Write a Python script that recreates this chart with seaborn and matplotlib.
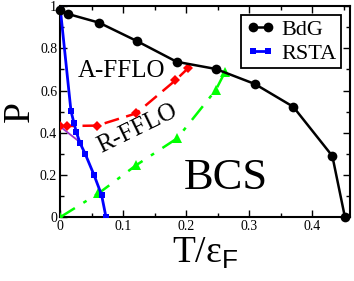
import numpy as np
import pandas as pd
import matplotlib
matplotlib.use("Agg")
import matplotlib.pyplot as plt
from matplotlib.ticker import MultipleLocator
import seaborn as sns

sns.set_style("ticks")
plt.rcParams['font.family'] = ['Liberation Serif', 'DejaVu Serif']
plt.rcParams['mathtext.fontset'] = 'custom'
plt.rcParams['mathtext.rm'] = 'Liberation Serif'
plt.rcParams['mathtext.sf'] = 'Liberation Sans'
plt.rcParams['text.color'] = 'black'
plt.rcParams['axes.labelcolor'] = 'black'

# BdG phase boundary
bdg_t = [0.0, 0.013, 0.062, 0.122, 0.185, 0.247, 0.309, 0.370, 0.432, 0.452]
bdg_p = [0.98, 0.962, 0.921, 0.834, 0.736, 0.702, 0.631, 0.523, 0.290, 0.0]

# RSTA boundary
rsta_t = [0.0, 0.0174, 0.022, 0.026, 0.032, 0.040, 0.054, 0.066, 0.073]
rsta_p = [1.0, 0.503, 0.448, 0.402, 0.350, 0.300, 0.200, 0.105, 0.0]

# A-FFLO / R-FFLO boundary (red)
red_t = [0.0, 0.0106, 0.059, 0.121, 0.183, 0.203]
red_p = [0.432, 0.432, 0.434, 0.492, 0.648, 0.705]

# R-FFLO / BCS boundary (green)
green_t = [0.0, 0.061, 0.121, 0.186, 0.247, 0.262]
green_p = [0.0, 0.113, 0.247, 0.374, 0.602, 0.689]

# short purple segment
purple_t = [0.0, 0.034]
purple_p = [0.43, 0.35]

fig = plt.figure(figsize=(3.54, 2.81), dpi=100)
ax = fig.add_axes([0.1695, 0.2267, 0.8192, 0.752])

bdg = pd.DataFrame({"T": bdg_t, "P": bdg_p})
rsta = pd.DataFrame({"T": rsta_t, "P": rsta_p})
red = pd.DataFrame({"T": red_t, "P": red_p})
green = pd.DataFrame({"T": green_t, "P": green_p})
purple = pd.DataFrame({"T": purple_t, "P": purple_p})

sns.lineplot(data=purple, x="T", y="P", sort=False, estimator=None, ax=ax,
             color="#9932cc", linewidth=1.3, zorder=2)
sns.lineplot(data=green, x="T", y="P", sort=False, estimator=None, ax=ax,
             color="#00ff00", linewidth=1.8, linestyle=(0, (7, 4, 1.5, 4)),
             marker="^", markersize=7, markeredgewidth=0, zorder=3)
sns.lineplot(data=red, x="T", y="P", sort=False, estimator=None, ax=ax,
             color="#ff0000", linewidth=1.8, linestyle=(0, (6, 3)),
             marker="D", markersize=5, markeredgewidth=0, zorder=3)
sns.lineplot(data=rsta, x="T", y="P", sort=False, estimator=None, ax=ax,
             color="#0000ff", linewidth=2.0, marker="s", markersize=5,
             markeredgewidth=0, label="RSTA", zorder=4)
sns.lineplot(data=bdg, x="T", y="P", sort=False, estimator=None, ax=ax,
             color="black", linewidth=1.8, marker="o", markersize=7,
             markeredgewidth=0, label="BdG", zorder=5, clip_on=False)

ax.set_xlim(0, 0.46)
ax.set_ylim(0, 1)
ax.xaxis.set_minor_locator(MultipleLocator(0.05))
ax.yaxis.set_minor_locator(MultipleLocator(0.1))
ax.set_xticks([0, 0.1, 0.2, 0.3, 0.4])
ax.set_xticklabels(["0", "0.1", "0.2", "0.3", "0.4"])
ax.set_yticks([0, 0.2, 0.4, 0.6, 0.8, 1.0])
ax.set_yticklabels(["0", "0.2", "0.4", "0.6", "0.8", "1"])
ax.tick_params(which="both", direction="in", top=True, right=True,
               labelsize=10, pad=2, color="black", labelcolor="black")
ax.tick_params(which="major", length=5, width=1)
ax.tick_params(which="minor", length=3, width=1)
for s in ax.spines.values():
    s.set_linewidth(1.5)
    s.set_color("black")

ax.set_xlabel(r"T/$\mathrm{\epsilon}_{\mathsf{F}}$", fontsize=27, labelpad=2)
ax.set_ylabel("P", fontsize=27, labelpad=2)

ax.text(0.097, 0.69, "A-FFLO", fontsize=18, ha="center", va="center", zorder=1)
ax.text(0.122, 0.42, "R-FFLO", fontsize=18, ha="center", va="center",
        rotation=26, zorder=1)
ax.text(0.263, 0.186, "BCS", fontsize=32, ha="center", va="center", zorder=1)

handles, labels = ax.get_legend_handles_labels()
order = [labels.index("BdG"), labels.index("RSTA")]
leg = ax.legend([handles[i] for i in order], [labels[i] for i in order],
                loc="upper right", fontsize=16, numpoints=2, handlelength=1.3,
                handletextpad=0.3, borderpad=0.2, labelspacing=0.15,
                borderaxespad=0.4, frameon=True, fancybox=False)
leg.get_frame().set_edgecolor("black")
leg.get_frame().set_linewidth(1.3)
leg.get_frame().set_alpha(1)

fig.savefig("out.png", dpi=100)
